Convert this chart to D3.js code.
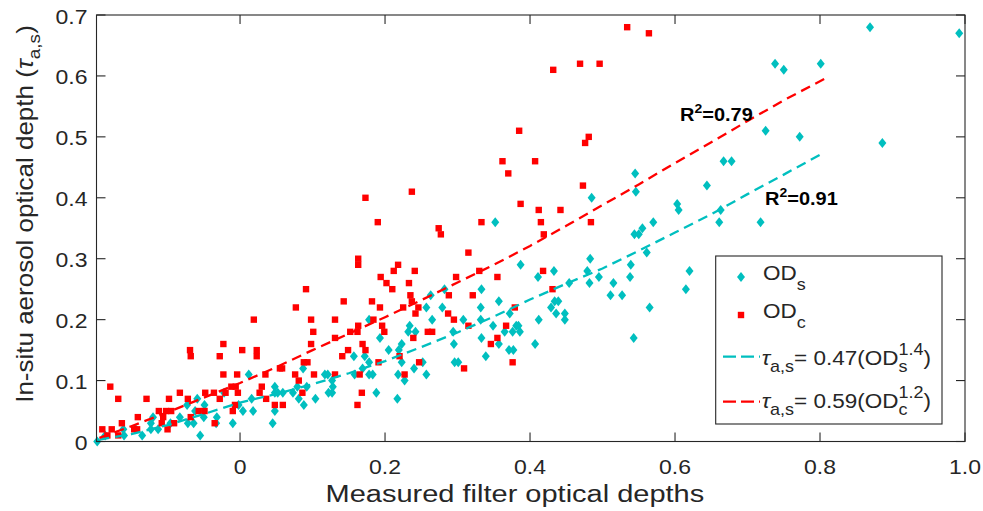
<!DOCTYPE html>
<html><head><meta charset="utf-8">
<script src="https://cdn.jsdelivr.net/npm/d3@7"></script>
<style>
html,body{margin:0;padding:0;background:#fff;}
svg{display:block;}
text{font-family:"Liberation Sans",Arial,Helvetica,sans-serif;fill:#262626;}
</style></head><body>
<svg id="c" width="983" height="511"></svg>
<script>
// ---------- data ----------
const xTicks = [0, 0.2, 0.4, 0.6, 0.8, 1.0];
const xTickLabels = ["0", "0.2", "0.4", "0.6", "0.8", "1.0"];
const yTicks = [0, 0.1, 0.2, 0.3, 0.4, 0.5, 0.6, 0.7];
const yTickLabels = ["0", "0.1", "0.2", "0.3", "0.4", "0.5", "0.6", "0.7"];

// OD_s (cyan diamonds)
const odsX = [
 -0.197,-0.186,-0.161,-0.160,-0.144,-0.135,-0.123,-0.123,-0.120,-0.113,
 -0.096,-0.083,-0.073,-0.072,-0.064,-0.062,-0.059,-0.055,-0.050,-0.049,
 -0.033,-0.032,-0.022,-0.010,-0.002,0.004,0.012,0.016,0.018,0.045,
 0.048,0.048,0.048,0.052,0.059,0.073,0.079,0.081,0.087,0.088,
 0.092,0.104,0.117,0.121,0.122,0.127,0.127,0.128,0.157,0.158,
 0.169,0.172,0.178,0.178,0.178,0.183,0.188,0.193,0.205,0.217,
 0.218,0.219,0.223,0.223,0.227,0.232,0.234,0.240,0.242,0.252,
 0.257,0.257,0.263,0.265,0.279,0.282,0.294,0.295,0.296,0.301,
 0.308,0.332,0.332,0.333,0.333,0.339,0.349,0.352,0.357,0.357,
 0.365,0.371,0.372,0.376,0.377,0.381,0.384,0.386,0.387,0.407,
 0.411,0.412,0.429,0.433,0.434,0.436,0.439,0.448,0.448,0.454,
 0.479,0.482,0.483,0.485,0.495,0.511,0.515,0.527,0.538,0.539,
 0.543,0.544,0.545,0.546,0.550,0.555,0.561,0.565,0.570,0.603,
 0.605,0.615,0.620,0.644,0.661,0.663,0.667,0.678,0.718,0.725,
 0.738,0.750,0.772,0.801,0.869,0.886,0.992];
const odsY = [
 0.00,0.01,0.02,0.01,0.02,0.01,0.03,0.02,0.04,0.02,
 0.03,0.04,0.06,0.03,0.03,0.05,0.07,0.01,0.04,0.06,
 0.03,0.04,0.08,0.03,0.06,0.05,0.11,0.07,0.05,0.03,
 0.09,0.08,0.05,0.08,0.08,0.08,0.09,0.07,0.12,0.06,
 0.09,0.07,0.11,0.11,0.08,0.08,0.10,0.09,0.14,0.11,
 0.12,0.14,0.20,0.13,0.11,0.11,0.08,0.17,0.15,0.07,
 0.11,0.15,0.16,0.13,0.10,0.18,0.19,0.12,0.18,0.13,
 0.22,0.11,0.24,0.20,0.22,0.25,0.18,0.16,0.13,0.13,
 0.20,0.22,0.20,0.25,0.17,0.14,0.19,0.36,0.23,0.16,
 0.18,0.15,0.21,0.18,0.15,0.19,0.19,0.18,0.29,0.16,
 0.27,0.20,0.22,0.28,0.23,0.21,0.23,0.21,0.20,0.26,
 0.28,0.26,0.30,0.40,0.27,0.24,0.26,0.24,0.27,0.29,
 0.17,0.34,0.44,0.41,0.34,0.35,0.31,0.22,0.36,0.39,
 0.38,0.25,0.28,0.42,0.36,0.38,0.46,0.46,0.36,0.51,
 0.62,0.61,0.50,0.62,0.68,0.49,0.67];

// OD_c (red squares)
const odcX = [
 -0.190,-0.183,-0.179,-0.177,-0.168,-0.168,-0.163,-0.146,-0.142,-0.141,
 -0.129,-0.112,-0.108,-0.106,-0.102,-0.100,-0.098,-0.095,-0.091,-0.083,
 -0.072,-0.069,-0.068,-0.068,-0.057,-0.049,-0.048,-0.036,-0.035,-0.028,
 -0.028,-0.023,-0.023,-0.020,-0.012,-0.010,-0.007,-0.006,-0.004,-0.003,
 0.003,0.019,0.023,0.023,0.027,0.030,0.035,0.036,0.048,0.055,
 0.058,0.059,0.076,0.077,0.081,0.086,0.088,0.091,0.093,0.098,
 0.098,0.101,0.102,0.131,0.131,0.131,0.141,0.143,0.149,0.152,
 0.162,0.162,0.163,0.163,0.163,0.165,0.168,0.169,0.173,0.173,
 0.182,0.184,0.190,0.191,0.193,0.194,0.196,0.199,0.202,0.210,
 0.212,0.218,0.220,0.225,0.227,0.233,0.235,0.237,0.237,0.239,
 0.241,0.242,0.246,0.247,0.259,0.265,0.274,0.277,0.287,0.288,
 0.295,0.298,0.309,0.315,0.315,0.321,0.330,0.333,0.346,0.355,
 0.355,0.362,0.367,0.370,0.376,0.379,0.385,0.387,0.407,0.412,
 0.415,0.418,0.419,0.431,0.432,0.442,0.469,0.473,0.476,0.481,
 0.484,0.496,0.534,0.564];
const odcY = [
 0.02,0.01,0.09,0.02,0.07,0.01,0.03,0.02,0.02,0.04,
 0.07,0.05,0.03,0.04,0.05,0.02,0.07,0.05,0.03,0.08,
 0.07,0.15,0.14,0.04,0.05,0.05,0.08,0.08,0.03,0.14,
 0.07,0.16,0.11,0.08,0.09,0.05,0.06,0.09,0.11,0.08,
 0.15,0.20,0.15,0.14,0.08,0.09,0.11,0.07,0.06,0.12,
 0.12,0.06,0.11,0.22,0.10,0.08,0.13,0.25,0.13,0.20,
 0.16,0.18,0.11,0.20,0.17,0.11,0.14,0.23,0.15,0.18,
 0.18,0.06,0.30,0.29,0.19,0.11,0.08,0.16,0.40,0.15,
 0.23,0.20,0.36,0.13,0.22,0.27,0.19,0.18,0.26,0.25,
 0.28,0.29,0.14,0.22,0.11,0.26,0.24,0.41,0.23,0.17,
 0.28,0.21,0.22,0.13,0.18,0.18,0.35,0.34,0.21,0.24,
 0.20,0.27,0.12,0.31,0.19,0.24,0.28,0.36,0.16,0.27,
 0.17,0.46,0.19,0.44,0.13,0.22,0.51,0.39,0.46,0.38,
 0.36,0.28,0.34,0.25,0.61,0.38,0.62,0.42,0.49,0.50,
 0.36,0.62,0.68,0.67];

// fitted curves
const fitSX = [-0.194,-0.15,-0.1,-0.05,0,0.05,0.1,0.15,0.2,0.25,0.3,0.35,0.4,0.45,0.5,0.55,0.6,0.65,0.7,0.75,0.802];
const fitSY = [0.003,0.012,0.027,0.045,0.064,0.078,0.094,0.112,0.132,0.155,0.179,0.205,0.233,0.259,0.284,0.313,0.343,0.373,0.406,0.438,0.472];
const fitCX = [-0.194,-0.15,-0.1,-0.05,0,0.05,0.1,0.15,0.2,0.25,0.3,0.35,0.4,0.45,0.5,0.55,0.6,0.65,0.7,0.75,0.809];
const fitCY = [0.006,0.025,0.048,0.072,0.096,0.122,0.150,0.177,0.204,0.232,0.261,0.290,0.321,0.354,0.388,0.422,0.457,0.491,0.526,0.560,0.597];

const r2Labels = ["0.79", "0.91"];

// ---------- drawing ----------
const CYAN = "#00BFBF", RED = "#FF0000", AX = "#262626";
const svg = d3.select("#c");
const L = 96.5, R = 965, T = 15, B = 441.5;
const x = d3.scaleLinear().domain([-0.198, 1.0]).range([L, R]);
const y = d3.scaleLinear().domain([0, 0.7]).range([B, T]);

function rich(parent, runs, tf, anchor, sy) {
  sy = sy || 0.9;
  const g = parent.append("g");
  const inner = g.append("g");
  let cx = 0;
  const put = (r, xx) => {
    const t = inner.append("text").attr("x", xx).attr("y", (r.dy || 0) / sy)
      .style("font-size", r.size + "px").text(r.t);
    if (r.italic) t.style("font-style", "italic");
    if (r.bold) t.style("font-weight", "bold");
    if (r.fill) t.style("fill", r.fill);
    return t.node().getComputedTextLength();
  };
  runs.forEach(r => {
    if (r.stack) { const ws = r.stack.map(s => put(s, cx)); cx += Math.max(...ws); }
    else cx += put(r, cx);
  });
  const off = anchor === "middle" ? -cx / 2 : anchor === "end" ? -cx : 0;
  inner.attr("transform", `translate(${off},0) scale(1,${sy})`);
  g.attr("transform", tf);
  return cx;
}

// scatter: cyan first, red on top
const diamond = "M0,-5L4,0L0,5L-4,0Z";
svg.append("g").selectAll("path").data(odsX.map((v, i) => [v, odsY[i]])).join("path")
  .attr("d", diamond).attr("transform", d => `translate(${x(d[0])},${y(d[1])})`)
  .attr("fill", CYAN);
svg.append("g").selectAll("rect").data(odcX.map((v, i) => [v, odcY[i]])).join("rect")
  .attr("x", d => x(d[0]) - 3.2).attr("y", d => y(d[1]) - 3.2).attr("width", 6.4).attr("height", 6.4)
  .attr("fill", RED);

// fit lines
const line = d3.line().x(d => x(d[0])).y(d => y(d[1]));
svg.append("path").datum(fitSX.map((v, i) => [v, fitSY[i]])).attr("d", line)
  .attr("fill", "none").attr("stroke", CYAN).attr("stroke-width", 2.3).attr("stroke-dasharray", "10,6");
svg.append("path").datum(fitCX.map((v, i) => [v, fitCY[i]])).attr("d", line)
  .attr("fill", "none").attr("stroke", RED).attr("stroke-width", 2.3).attr("stroke-dasharray", "10,6");

// axes box and ticks
const ax = svg.append("g").attr("stroke", AX).attr("stroke-width", 1.1).attr("fill", "none");
ax.append("rect").attr("x", L).attr("y", T).attr("width", R - L).attr("height", B - T);
const TL = 9;
xTicks.forEach(v => {
  ax.append("line").attr("x1", x(v)).attr("x2", x(v)).attr("y1", B).attr("y2", B - TL);
  ax.append("line").attr("x1", x(v)).attr("x2", x(v)).attr("y1", T).attr("y2", T + TL);
});
yTicks.forEach(v => {
  ax.append("line").attr("x1", L).attr("x2", L + TL).attr("y1", y(v)).attr("y2", y(v));
  ax.append("line").attr("x1", R).attr("x2", R - TL).attr("y1", y(v)).attr("y2", y(v));
});

// tick labels
xTicks.forEach((v, i) => rich(svg, [{ t: xTickLabels[i], size: 23 }], `translate(${x(v)},474)`, "middle"));
yTicks.forEach((v, i) => rich(svg, [{ t: yTickLabels[i], size: 23 }], `translate(87.5,${y(v) + 8.5})`, "end"));

// axis titles
rich(svg, [{ t: "Measured filter optical depths", size: 29 }], `translate(515,502)`, "middle", 0.84);
{
  const g = svg.append("g");
  const w = rich(g, [
    { t: "In-situ aerosol optical depth (", size: 26 },
    { t: "τ", size: 26, italic: true },
    { t: "a,s", size: 19, dy: 7 },
    { t: ")", size: 26 }
  ], "", "start");
  g.attr("transform", `translate(33,${214 + w / 2}) rotate(-90)`);
}

// R^2 annotations
rich(svg, [
  { t: "R", size: 20, bold: true, fill: "#000" },
  { t: "2", size: 14, bold: true, fill: "#000", dy: -8 },
  { t: "=" + r2Labels[0], size: 20, bold: true, fill: "#000" }
], "translate(680,120.5)", "start");
rich(svg, [
  { t: "R", size: 20, bold: true, fill: "#000" },
  { t: "2", size: 14, bold: true, fill: "#000", dy: -8 },
  { t: "=" + r2Labels[1], size: 20, bold: true, fill: "#000" }
], "translate(765,205)", "start");

// legend
const lg = svg.append("g");
lg.append("rect").attr("x", 715.7).attr("y", 256).attr("width", 226.3).attr("height", 168)
  .attr("fill", "#fff").attr("stroke", AX).attr("stroke-width", 1.1);
lg.append("path").attr("d", diamond).attr("transform", "translate(741,277)").attr("fill", CYAN);
lg.append("rect").attr("x", 737.8).attr("y", 311.8).attr("width", 6.4).attr("height", 6.4).attr("fill", RED);
lg.append("line").attr("x1", 723).attr("x2", 760).attr("y1", 356.7).attr("y2", 356.7)
  .attr("stroke", CYAN).attr("stroke-width", 2.3).attr("stroke-dasharray", "13,5");
lg.append("line").attr("x1", 723).attr("x2", 760).attr("y1", 401.7).attr("y2", 401.7)
  .attr("stroke", RED).attr("stroke-width", 2.3).attr("stroke-dasharray", "13,5");
const LF = 22.5, LS = 18;
rich(lg, [{ t: "OD", size: LF }, { t: "s", size: LS, dy: 10 }], "translate(763,280)", "start");
rich(lg, [{ t: "OD", size: LF }, { t: "c", size: LS, dy: 10 }], "translate(763,318)", "start");
rich(lg, [
  { t: "τ", size: LF, italic: true }, { t: "a,s", size: LS, dy: 7 },
  { t: "= 0.47(OD", size: LF },
  { stack: [{ t: "s", size: LS, dy: 7 }, { t: "1.4", size: LS, dy: -10 }] },
  { t: ")", size: LF }
], "translate(761.7,365)", "start");
rich(lg, [
  { t: "τ", size: LF, italic: true }, { t: "a,s", size: LS, dy: 7 },
  { t: "= 0.59(OD", size: LF },
  { stack: [{ t: "c", size: LS, dy: 7 }, { t: "1.2", size: LS, dy: -10 }] },
  { t: ")", size: LF }
], "translate(761.7,408)", "start");
</script>
</body></html>
